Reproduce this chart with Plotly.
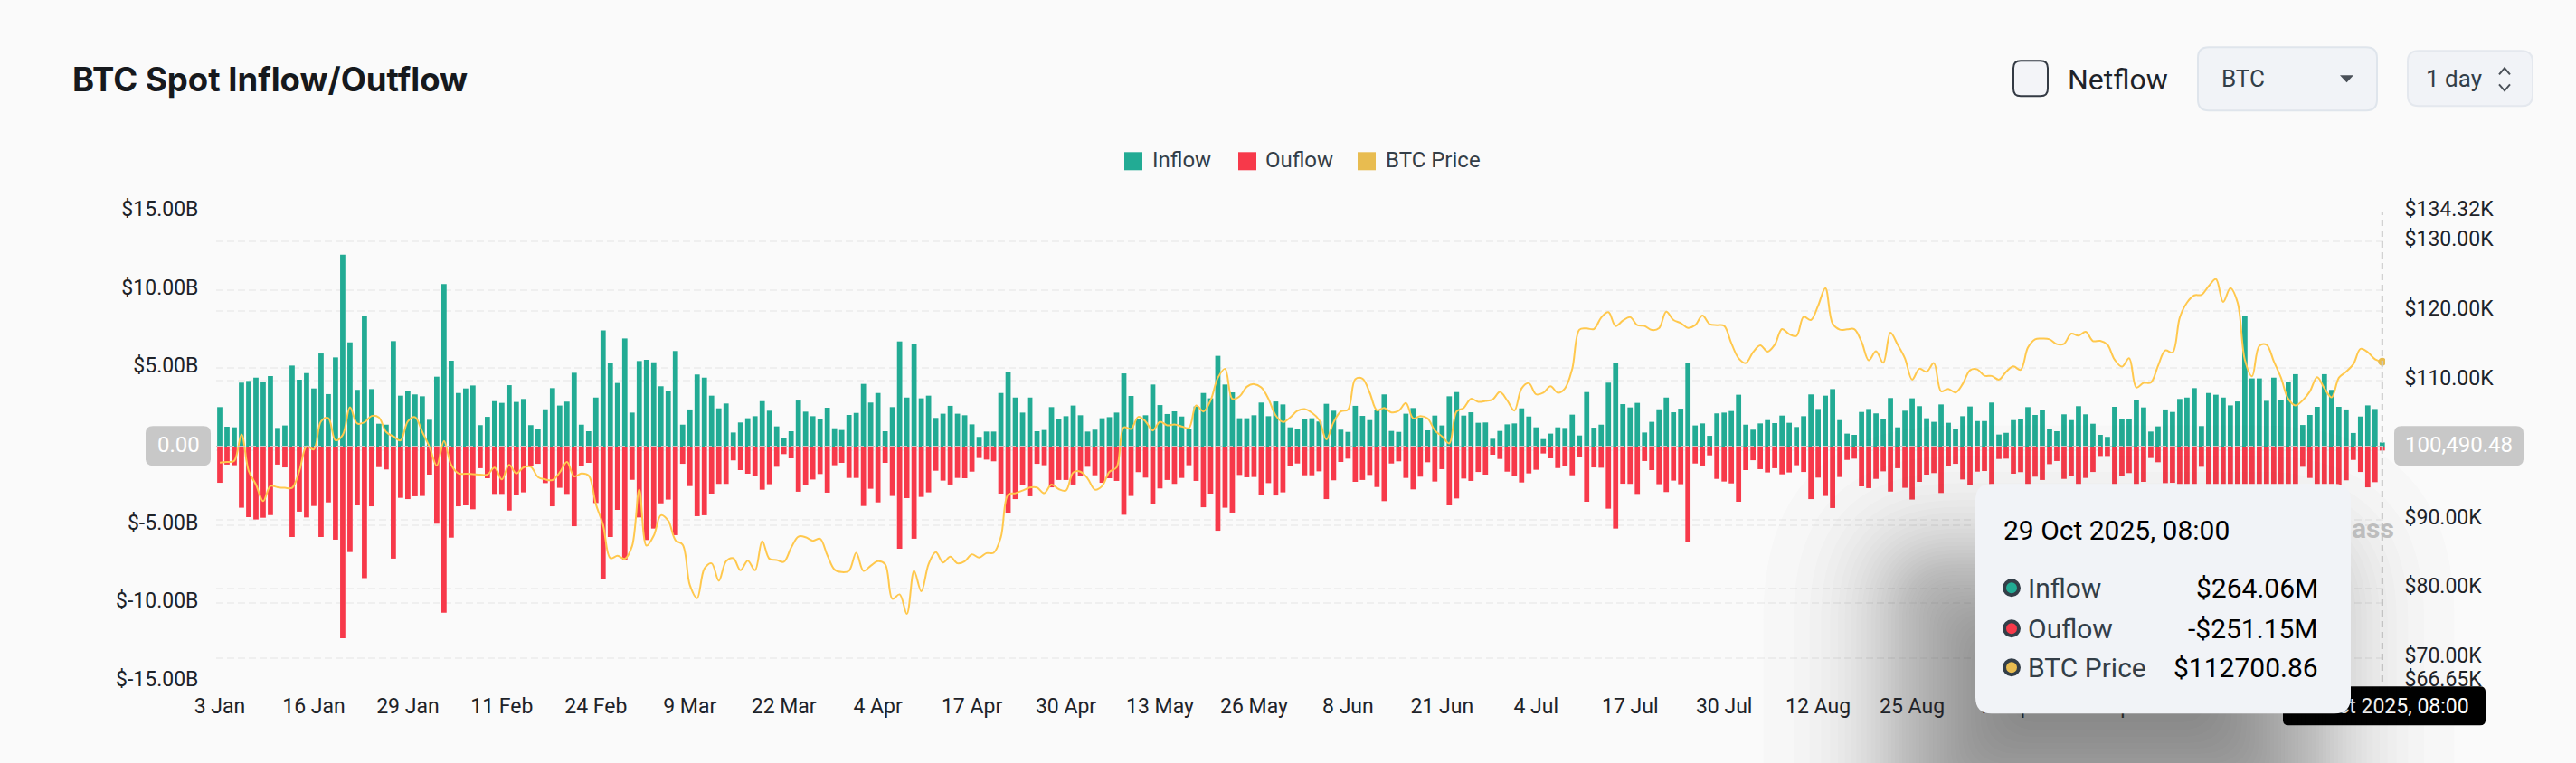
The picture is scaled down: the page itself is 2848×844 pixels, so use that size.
from statistics import NormalDist

import pandas as pd
import plotly.graph_objects as go

# values, one per day from 3 Jan 2025 ($B / $)
inflow = [
    2.52, 1.27, 1.23, 4.08, 4.19, 4.40, 4.12, 4.50, 1.19, 1.35, 5.17, 4.27, 4.69, 3.71, 5.94, 3.35, 5.69, 12.25, 6.65, 3.62,
    8.31, 3.67, 1.46, 1.40, 6.73, 3.25, 3.54, 3.33, 3.21, 1.71, 4.46, 10.37, 5.48, 3.42, 3.71, 3.90, 1.37, 1.90, 2.90, 2.79,
    3.92, 2.85, 3.04, 1.37, 1.12, 2.38, 3.73, 2.62, 2.87, 4.71, 1.40, 0.98, 3.13, 7.42, 5.35, 4.06, 6.90, 2.17, 5.46, 5.54,
    5.38, 3.85, 3.54, 6.10, 1.40, 2.37, 4.60, 4.40, 3.25, 2.44, 2.75, 0.90, 1.54, 1.81, 1.94, 2.90, 2.29, 1.29, 0.54, 0.98,
    2.94, 2.23, 1.94, 1.73, 2.48, 1.17, 1.06, 2.02, 2.15, 4.00, 2.81, 3.42, 0.98, 2.52, 6.71, 3.13, 6.56, 3.08, 3.25, 1.83,
    2.10, 2.60, 2.10, 2.00, 1.42, 0.62, 0.96, 0.96, 3.42, 4.73, 3.13, 2.17, 3.13, 0.98, 1.06, 2.52, 1.77, 1.94, 2.62, 2.00,
    0.96, 1.08, 1.81, 1.88, 2.17, 4.67, 3.23, 1.73, 2.00, 3.96, 2.65, 2.08, 2.25, 1.92, 1.15, 2.56, 3.42, 3.08, 5.79, 3.96,
    3.46, 1.81, 1.81, 2.00, 2.81, 1.94, 2.88, 2.69, 1.23, 1.12, 1.77, 1.81, 1.60, 2.73, 2.29, 1.08, 0.94, 2.60, 1.96, 1.69,
    2.33, 3.33, 1.00, 0.94, 2.10, 2.46, 1.85, 1.04, 1.98, 1.35, 3.21, 3.48, 1.98, 2.19, 1.52, 1.54, 0.50, 1.00, 1.42, 1.48,
    2.44, 1.92, 1.23, 0.48, 0.83, 1.23, 1.19, 2.04, 0.71, 3.48, 1.21, 1.40, 4.08, 5.31, 2.71, 2.50, 2.79, 0.90, 1.58, 2.38,
    3.13, 2.19, 2.42, 5.35, 1.35, 1.48, 0.69, 2.12, 2.17, 2.27, 3.31, 1.40, 1.08, 1.48, 1.69, 1.50, 1.98, 1.52, 1.25, 1.94,
    3.33, 2.40, 3.25, 3.67, 1.69, 0.83, 0.75, 2.21, 2.40, 2.12, 1.79, 3.10, 1.23, 2.29, 3.08, 2.58, 1.81, 1.58, 2.69, 1.52,
    1.15, 1.94, 2.56, 1.63, 1.63, 2.81, 0.77, 0.88, 1.69, 1.75, 2.52, 2.02, 2.31, 1.12, 0.98, 2.06, 1.69, 2.58, 2.06, 1.46,
    0.75, 0.62, 2.54, 1.73, 1.75, 2.98, 2.50, 0.96, 1.29, 2.37, 2.21, 3.04, 3.13, 3.73, 1.31, 3.42, 3.31, 3.13, 2.63, 2.88,
    8.35, 4.35, 4.35, 2.92, 4.40, 2.98, 4.13, 4.62, 1.38, 2.02, 2.54, 4.62, 3.62, 2.54, 2.37, 0.87, 1.92, 2.63, 2.40, 0.264,
]
outflow = [
    -2.31, -1.15, -1.19, -3.90, -4.50, -4.65, -4.54, -4.37, -1.15, -1.33, -5.77, -4.15, -4.52, -3.79, -5.77, -3.56, -5.94, -12.23, -6.73, -3.75,
    -8.40, -3.81, -1.31, -1.46, -7.15, -3.27, -3.35, -3.17, -3.15, -1.79, -4.92, -10.60, -5.81, -3.81, -3.75, -4.00, -1.38, -2.02, -3.02, -3.02,
    -4.08, -3.08, -2.92, -1.23, -1.10, -2.33, -3.81, -2.63, -3.02, -5.08, -1.25, -1.04, -3.60, -8.48, -5.77, -4.04, -7.21, -2.12, -4.52, -5.96,
    -5.23, -3.62, -3.38, -5.65, -1.10, -2.52, -4.44, -4.38, -3.00, -2.38, -2.38, -0.88, -1.50, -1.73, -1.90, -2.75, -2.40, -1.29, -0.48, -0.75,
    -2.88, -2.46, -2.10, -1.75, -2.94, -1.19, -1.04, -2.00, -2.00, -3.79, -2.69, -3.56, -1.04, -3.15, -6.52, -3.29, -5.88, -3.21, -2.92, -1.54,
    -2.17, -2.42, -2.00, -2.02, -1.60, -0.73, -0.83, -0.94, -3.00, -4.23, -3.35, -2.44, -3.17, -1.10, -1.19, -2.60, -2.13, -2.13, -2.42, -1.90,
    -1.29, -1.83, -2.31, -2.02, -2.19, -4.35, -3.15, -1.63, -1.98, -3.69, -2.67, -2.13, -2.38, -2.00, -1.19, -2.19, -3.87, -3.00, -5.37, -3.90,
    -4.21, -1.81, -1.96, -1.94, -3.06, -2.33, -3.12, -2.92, -1.23, -1.08, -1.83, -1.83, -1.58, -3.35, -2.15, -0.98, -0.77, -2.25, -2.13, -1.81,
    -2.58, -3.48, -1.08, -0.94, -2.00, -2.73, -1.92, -1.00, -2.23, -1.44, -3.75, -3.31, -2.04, -2.19, -1.62, -1.79, -0.52, -0.79, -1.60, -1.90,
    -2.29, -1.71, -1.48, -0.44, -0.75, -1.37, -1.25, -1.83, -0.69, -3.52, -1.33, -1.35, -3.96, -5.23, -2.37, -2.38, -3.02, -0.92, -1.50, -2.40,
    -2.90, -2.17, -2.40, -6.08, -1.08, -1.21, -0.56, -2.06, -2.23, -2.35, -3.52, -1.50, -0.87, -1.44, -1.65, -1.38, -1.77, -1.65, -1.19, -1.62,
    -3.35, -1.98, -3.15, -3.92, -1.94, -0.85, -0.77, -2.54, -2.65, -2.06, -1.58, -2.87, -1.38, -2.63, -3.38, -2.25, -1.79, -1.69, -2.96, -1.23,
    -1.10, -2.10, -2.48, -1.60, -1.56, -2.87, -0.79, -0.77, -1.73, -1.63, -2.67, -1.92, -2.13, -1.12, -0.92, -2.06, -1.85, -2.87, -2.00, -1.62,
    -0.60, -0.60, -2.77, -1.85, -1.69, -2.67, -2.25, -0.73, -1.00, -2.33, -2.31, -2.67, -2.67, -3.44, -1.29, -3.06, -3.15, -2.87, -2.48, -2.77,
    -8.40, -4.30, -4.30, -2.90, -4.30, -3.00, -4.00, -4.50, -1.29, -2.00, -2.70, -4.60, -3.50, -2.60, -2.15, -0.85, -1.62, -2.60, -2.27, -0.251,
]
price = [
    98180, 98270, 98440, 102250, 96970, 95020, 92640, 94810, 94630, 94550, 94550, 96970, 100520, 100090, 104110, 104590, 101390, 102160, 106150, 103810,
    103980, 104890, 104680, 102600, 101950, 101390, 104110, 104720, 102600, 100430, 97750, 101300, 97840, 96620, 96580, 96530, 96450, 96450, 97450, 95760,
    97840, 96620, 97490, 97580, 96100, 95760, 95670, 96750, 98270, 96190, 96620, 96320, 92210, 89180, 84420, 84760, 84330, 86150, 94290, 86230,
    87660, 90610, 89830, 87010, 86360, 80520, 78660, 82900, 83680, 81170, 83980, 84420, 82680, 84070, 82680, 86880, 84330, 84160, 83900, 85930,
    87530, 87450, 86930, 87230, 84850, 82770, 82420, 82600, 85190, 82600, 83330, 83980, 83550, 78570, 79220, 76410, 82600, 79650, 83550, 85280,
    83810, 84630, 83680, 83980, 84980, 84500, 85150, 85190, 87450, 93590, 93770, 94160, 94590, 94590, 93770, 95020, 94370, 94160, 96750, 96880,
    95890, 94290, 94810, 96840, 97490, 103250, 103030, 104760, 104110, 102810, 104070, 103550, 103680, 103380, 103160, 106410, 105540, 107140, 110390, 111690,
    107360, 107710, 109090, 109480, 109000, 107360, 104980, 104030, 104680, 105630, 105890, 105370, 104330, 101520, 103980, 105540, 105800, 110170, 110260, 108230,
    105710, 106060, 105410, 105630, 106750, 104550, 104890, 104550, 102810, 101950, 100950, 105540, 106060, 107360, 106930, 107060, 107270, 108350, 107140, 105670,
    108870, 109610, 108010, 108230, 109180, 108230, 108870, 111690, 117320, 117490, 117400, 119050, 119830, 117840, 118610, 119130, 117970, 117840, 117270, 117530,
    119910, 118700, 118270, 117580, 117970, 119350, 118100, 117970, 117880, 115370, 113200, 112510, 114070, 115060, 114160, 115150, 117400, 116670, 116410, 119180,
    118700, 120780, 123290, 118180, 117320, 117360, 117400, 115580, 112900, 114200, 112550, 116880, 115150, 113200, 110130, 111690, 111260, 112510, 108440, 108790,
    108270, 109520, 111470, 111600, 110690, 110650, 110130, 111260, 112030, 111520, 114720, 115930, 116020, 115930, 115240, 115280, 116750, 116450, 117010, 115670,
    115710, 115150, 112990, 111990, 113200, 109000, 109650, 109700, 112120, 114330, 114030, 119050, 121210, 122250, 122340, 123590, 124590, 121300, 123290, 121210,
    112990, 110610, 114980, 115150, 112770, 110390, 107360, 106410, 107140, 108440, 110480, 108870, 107580, 110390, 111260, 112340, 114550, 114070, 113070, 112700.86,
]
# "16 Oct" sits behind the tooltip in the reference, so it stays blank
x_tick_labels = ["3 Jan", "16 Jan", "29 Jan", "11 Feb", "24 Feb", "9 Mar", "22 Mar", "4 Apr", "17 Apr", "30 Apr", "13 May", "26 May",
                 "8 Jun", "21 Jun", "4 Jul", "17 Jul", "30 Jul", "12 Aug", "25 Aug", "7 Sep", "20 Sep", "3 Oct", ""]
left_ticks = [-15, -10, -5, 0, 5, 10, 15]
left_labels = ["$-15.00B", "$-10.00B", "$-5.00B", "", "$5.00B", "$10.00B", "$15.00B"]  # 0 is the pointer label
right_ticks = [66650, 70000, 80000, 90000, 100000, 110000, 120000, 130000, 134320]
right_labels = ["$66.65K", "$70.00K", "$80.00K", "$90.00K", "", "$110.00K", "$120.00K", "$130.00K", "$134.32K"]

GREEN, RED, GOLD, LINE_GOLD = "#22AB94", "#F7394A", "#E8BC50", "#FFC84D"
BG, PANEL, GRID, CROSS = "#FAFAFA", "#F1F3F7", "#EFEFEF", "#C8C8C8"
FONT = "Roboto"

W, H = 2848, 844
L, R, T, B = 239, 2637, 233.7, 753.7

dates = pd.date_range("2025-01-03", periods=len(inflow)).strftime("%Y-%m-%d").tolist()


def px(x):
    return (x - L) / (R - L)


def py(y):
    return 1 - (y - T) / (B - T)


def rounded(x0, y0, x1, y1, r, **kw):
    # plotly paths have no arcs, so corners are quadratic curves
    p = (f"M{px(x0 + r)},{py(y0)} L{px(x1 - r)},{py(y0)} Q{px(x1)},{py(y0)} {px(x1)},{py(y0 + r)} "
         f"L{px(x1)},{py(y1 - r)} Q{px(x1)},{py(y1)} {px(x1 - r)},{py(y1)} "
         f"L{px(x0 + r)},{py(y1)} Q{px(x0)},{py(y1)} {px(x0)},{py(y1 - r)} "
         f"L{px(x0)},{py(y0 + r)} Q{px(x0)},{py(y0)} {px(x0 + r)},{py(y0)} Z")
    return dict(type="path", xref="paper", yref="paper", path=p, layer="above", line=dict(width=0), **kw)


def label(x, y, text, size=24, color="#1E2329", anchor="left", weight=None, font=FONT):
    f = dict(family=font, size=size, color=color)
    if weight:
        f["weight"] = weight
    if anchor == "left":
        x -= 2  # annotation box padding
    return dict(xref="paper", yref="paper", x=px(x), y=py(y), text=text, showarrow=False,
                xanchor=anchor, yanchor="middle", font=f)


def square(x0, y0, size, color):
    return dict(type="rect", xref="paper", yref="paper", x0=px(x0), x1=px(x0 + size), y0=py(y0), y1=py(y0 + size),
                fillcolor=color, line=dict(width=0), layer="above")


def dot(cx, cy, d, color):
    return dict(type="circle", xref="paper", yref="paper", x0=px(cx - d / 2), x1=px(cx + d / 2),
                y0=py(cy - d / 2), y1=py(cy + d / 2), fillcolor=color, line=dict(color="#333E48", width=4), layer="above")


fig = go.Figure()
fig.add_trace(go.Bar(x=dates, y=inflow, name="Inflow", marker=dict(color=GREEN, line=dict(width=0))))
fig.add_trace(go.Bar(x=dates, y=outflow, name="Ouflow", marker=dict(color=RED, line=dict(width=0))))
fig.add_trace(go.Scatter(x=dates, y=price, name="BTC Price", yaxis="y2", mode="lines",
                         line=dict(color=LINE_GOLD, width=2, shape="spline", smoothing=1.0)))
fig.add_trace(go.Scatter(x=dates[-1:], y=price[-1:], yaxis="y2", mode="markers", showlegend=False,
                         marker=dict(color=GOLD, size=9)))

shapes = []
# crosshair and zero line
shapes.append(dict(type="line", xref="x", yref="paper", x0=dates[-1], x1=dates[-1], y0=0, y1=1,
                   line=dict(color=CROSS, width=2, dash="7px,5px"), layer="above"))
shapes.append(dict(type="line", xref="paper", yref="y", x0=0, x1=1, y0=0, y1=0,
                   line=dict(color=CROSS, width=2, dash="8px,4px"), layer="above"))
# axis pointer labels
shapes.append(rounded(161, 471, 233, 515, 8, fillcolor="#C8C8C8"))
shapes.append(rounded(2647, 471, 2790, 515, 8, fillcolor="#C8C8C8"))
black = rounded(2524, 759, 2748, 802, 6, fillcolor="#000000")
black["layer"] = "below"
shapes.append(black)
# box-shadow of the tooltip: translucent boxes spaced along a gaussian edge
N_SHADOW = 50
SIGMA = 75
for i in range(N_SHADOW):
    grow = SIGMA * NormalDist().inv_cdf(1 - (i + 0.5) / N_SHADOW)
    grow = max(grow, -115)
    x0, y0, x1, y1 = 2184 - 60 - grow, 535 + 110 - grow, 2599 - 60 + grow, 789 + 110 + grow
    shapes.append(rounded(x0, y0, x1, y1, min(40 + max(grow, 0), (y1 - y0) / 2),
                          fillcolor="rgba(40,40,40,0.016)"))
# tooltip
shapes.append(rounded(2184, 535, 2599, 789, 18, fillcolor=PANEL))
shapes += [dot(2224, 650, 16, GREEN), dot(2224, 695, 16, RED), dot(2224, 738, 16, GOLD)]
# legend
shapes += [square(1243, 168, 20, GREEN), square(1369, 168, 20, RED), square(1501, 168, 20, GOLD)]
# controls
shapes.append(dict(rounded(2226, 67, 2264, 106, 8, fillcolor="#F3F4F8"), line=dict(color="#333A44", width=2)))
shapes.append(dict(rounded(2430, 52, 2628, 122, 12, fillcolor=PANEL), line=dict(color="#DFE5EC", width=2)))
shapes.append(dict(rounded(2662, 56, 2800, 117, 12, fillcolor=PANEL), line=dict(color="#E4E8EE", width=2)))
shapes.append(dict(type="path", xref="paper", yref="paper", layer="above", fillcolor="#4A5058", line=dict(width=0),
                   path=f"M{px(2587)},{py(83)} L{px(2602)},{py(83)} L{px(2594.5)},{py(91)} Z"))
for a, b, c in [(82, 75, 82), (93, 100, 93)]:
    shapes.append(dict(type="path", xref="paper", yref="paper", layer="above", line=dict(color="#4A5058", width=2),
                       path=f"M{px(2763)},{py(a)} L{px(2769)},{py(b)} L{px(2775)},{py(c)}"))

annotations = [
    label(80, 88, "BTC Spot Inflow/Outflow", size=36.5, color="#16191D", weight=700, font="Inter"),
    label(1274, 177, "Inflow", color="#333E48"),
    label(1399, 177, "Ouflow", color="#333E48"),
    label(1532, 177, "BTC Price", color="#333E48"),
    label(2286, 88, "Netflow", size=32),
    label(2456, 87, "BTC", size=26, color="#333E48"),
    label(2682, 87, "1 day", size=26, color="#333E48"),
    label(197, 492, "0.00", color="#FFFFFF", anchor="center"),
    label(2718, 492, "100,490.48", color="#FFFFFF", anchor="center"),
    label(2600, 584, "ass", size=30, color="#BDBDBD", weight=700),
    label(2215, 586, "29 Oct 2025, 08:00", size=30, color="#000000"),
    label(2242, 650, "Inflow", size=30, color="#333E48"),
    label(2242, 695, "Ouflow", size=30, color="#333E48"),
    label(2242, 738, "BTC Price", size=30, color="#333E48"),
    label(2565, 650, "$264.06M", size=30, color="#000000", anchor="right"),
    label(2565, 695, "-$251.15M", size=30, color="#000000", anchor="right"),
    label(2565, 738, "$112700.86", size=30, color="#000000", anchor="right"),
]

last_tick = '<span style="color:#FFFFFF">29 Oct 2025, 08:00</span>'

fig.update_layout(
    width=W, height=H,
    margin=dict(l=L, r=W - R, t=T, b=H - B, pad=0),
    paper_bgcolor=BG, plot_bgcolor=BG,
    showlegend=False,
    barmode="relative", bargap=0.28,
    font=dict(family=FONT, size=23, color="#1E2329"),
    shapes=shapes, annotations=annotations,
    xaxis=dict(type="category", range=[-0.5, 299.4], showgrid=False, zeroline=False, showline=False,
               tickmode="array", tickvals=dates[::13], ticktext=x_tick_labels + [last_tick],
               tickangle=0, ticks="outside", ticklen=6, tickcolor="rgba(0,0,0,0)"),
    yaxis=dict(range=[-15, 15], tickmode="array", tickvals=left_ticks, ticktext=left_labels,
               showgrid=True, gridcolor=GRID, griddash="8px,4px", gridwidth=2, zeroline=False, showline=False,
               ticks="outside", ticklen=14, tickcolor="rgba(0,0,0,0)", ticklabelshift=-3),
    yaxis2=dict(range=[66650, 134320], overlaying="y", side="right", tickmode="array", tickvals=right_ticks,
                ticktext=right_labels, showgrid=True, gridcolor=GRID, griddash="8px,4px", gridwidth=2,
                zeroline=False, showline=False, ticks="outside", ticklen=16, tickcolor="rgba(0,0,0,0)", ticklabelshift=-3),
)

fig.write_html("out.html", config={"displayModeBar": False}, post_script="document.body.style.margin='0';")
